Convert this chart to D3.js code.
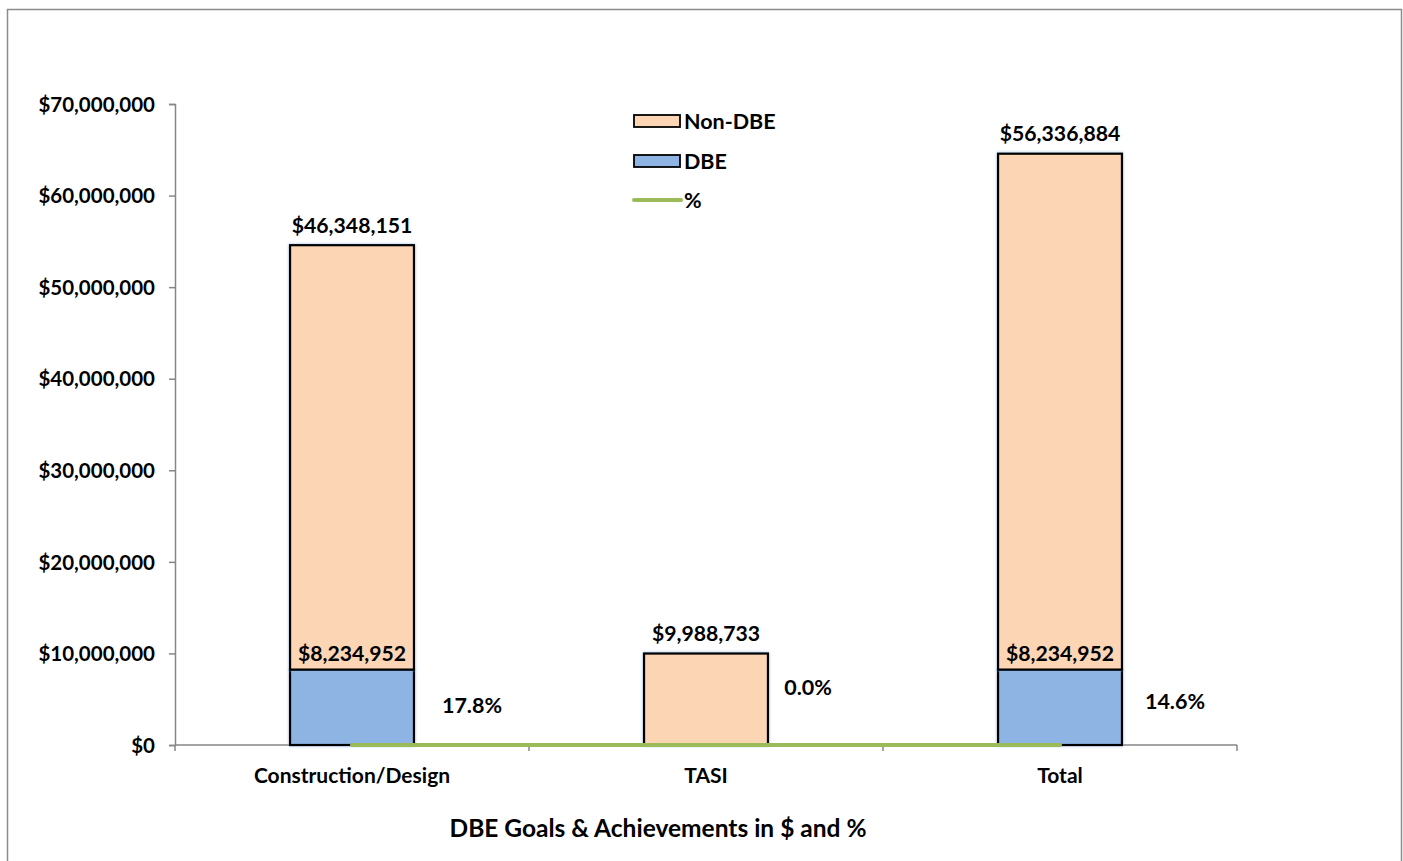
<!DOCTYPE html>
<html>
<head>
<meta charset="utf-8">
<script src="https://cdn.jsdelivr.net/npm/d3@7"></script>
<style>
  html, body { margin: 0; padding: 0; background: #fff; }
  svg { display: block; font-family: Lato, "Open Sans", sans-serif; font-weight: bold; }
</style>
</head>
<body>
<svg id="chart" width="1403" height="861"></svg>
<script>
// Program categories and amounts
const categories = ["Construction/Design", "TASI", "Total"];
const dbeValues = [8234952, 0, 8234952];
const nonDbeValues = [46348151, 9988733, 56336884];
const percentValues = [17.8, 0.0, 14.6];
const yTicks = [0, 10000000, 20000000, 30000000, 40000000, 50000000, 60000000, 70000000];
const legendLabels = ["Non-DBE", "DBE", "%"];
const chartTitle = "DBE Goals & Achievements in $ and %";

const colors = { nonDbe: "#FCD5B5", dbe: "#8EB4E3", pct: "#9BBB59", axis: "#868686" };
const fs = { tick: 20.5, cat: 21, value: 21.2, pct: 21.5, legend: 21.5, title: 24.5 };

const svg = d3.select("#chart");
const W = 1403, H = 861;
const plot = { left: 175, right: 1237, top: 104, bottom: 745 };

// Outer chart frame
svg.append("rect")
  .attr("x", 7.5).attr("y", 9.5).attr("width", W - 9).attr("height", H + 10)
  .attr("fill", "#fff").attr("stroke", "#8c8c8c").attr("stroke-width", 1.5);

const x = d3.scaleBand().domain(categories).range([plot.left, plot.right]).padding(0);
const y = d3.scaleLinear().domain([0, 70000000]).range([plot.bottom, plot.top]);
const barW = x.bandwidth() * 0.35;
const money = v => "$" + d3.format(",")(v);

// Y axis
const yAxis = svg.append("g")
  .attr("transform", `translate(${plot.left},0)`)
  .call(d3.axisLeft(y).tickValues(yTicks).tickSize(6).tickPadding(14).tickFormat(money));
yAxis.select(".domain").attr("stroke", colors.axis).attr("stroke-width", 1.5);
yAxis.selectAll(".tick line").attr("stroke", colors.axis).attr("stroke-width", 1.5);
yAxis.selectAll(".tick text").attr("font-size", fs.tick).attr("font-family", "Lato, sans-serif")
  .attr("font-weight", "bold").attr("fill", "#000").attr("dy", "0.35em");

// X axis with boundary ticks between categories
const xg = svg.append("g");
xg.append("line")
  .attr("x1", plot.left).attr("x2", plot.right).attr("y1", plot.bottom).attr("y2", plot.bottom)
  .attr("stroke", colors.axis).attr("stroke-width", 1.5);
const bounds = categories.map(c => x(c)).concat([plot.right]);
xg.selectAll("line.tk").data(bounds).enter().append("line")
  .attr("class", "tk")
  .attr("x1", d => d).attr("x2", d => d)
  .attr("y1", plot.bottom).attr("y2", plot.bottom + 6)
  .attr("stroke", colors.axis).attr("stroke-width", 1.5);
xg.selectAll("text").data(categories).enter().append("text")
  .attr("x", d => x(d) + x.bandwidth() / 2)
  .attr("y", plot.bottom + 31)
  .attr("dy", "0.35em")
  .attr("text-anchor", "middle").attr("font-size", fs.cat).attr("fill", "#000")
  .text(d => d);

// Stacked bars
const rows = categories.map((c, i) => ({ cat: c, dbe: dbeValues[i], non: nonDbeValues[i] }));
const stack = d3.stack().keys(["dbe", "non"])(rows);
const fills = { dbe: colors.dbe, non: colors.nonDbe };

stack.forEach(layer => {
  svg.append("g").selectAll("rect").data(layer.filter(d => d[1] > d[0])).enter().append("rect")
    .attr("x", d => x(d.data.cat) + (x.bandwidth() - barW) / 2)
    .attr("y", d => y(d[1]))
    .attr("width", barW)
    .attr("height", d => y(d[0]) - y(d[1]))
    .attr("fill", fills[layer.key])
    .attr("stroke", "#000").attr("stroke-width", 2.2)
    .style("filter", "drop-shadow(0 0 1.5px rgba(141,179,226,0.9))");
});

// Value labels: Non-DBE above bar, DBE just above its segment
const cx = c => x(c) + x.bandwidth() / 2;
svg.append("g").selectAll("text").data(rows).enter().append("text")
  .attr("x", d => cx(d.cat))
  .attr("y", d => y(d.dbe + d.non) - 20)
  .attr("dy", "0.35em")
  .attr("text-anchor", "middle").attr("font-size", fs.value).attr("fill", "#000")
  .text(d => money(d.non));
svg.append("g").selectAll("text").data(rows.filter(d => d.dbe > 0)).enter().append("text")
  .attr("x", d => cx(d.cat))
  .attr("y", d => y(d.dbe) - 16)
  .attr("dy", "0.35em")
  .attr("text-anchor", "middle").attr("font-size", fs.value).attr("fill", "#000")
  .text(d => money(d.dbe));

// Percent series, plotted against the dollar scale
const line = d3.line().x((d, i) => cx(categories[i])).y(d => y(d));
svg.append("path")
  .datum(percentValues)
  .attr("d", line)
  .attr("fill", "none").attr("stroke", colors.pct).attr("stroke-width", 4)
  .attr("stroke-linecap", "round");

const pctOffsets = [{ dx: 120, dy: -40 }, { dx: 102, dy: -58 }, { dx: 115, dy: -44 }];
svg.append("g").selectAll("text").data(percentValues).enter().append("text")
  .attr("x", (d, i) => cx(categories[i]) + pctOffsets[i].dx)
  .attr("y", (d, i) => y(d) + pctOffsets[i].dy)
  .attr("text-anchor", "middle").attr("dy", "0.35em")
  .attr("font-size", fs.pct).attr("fill", "#000")
  .text(d => d.toFixed(1) + "%");

// Legend
const lg = svg.append("g").attr("transform", "translate(634,0)");
const legendY = [121, 161, 200];
legendLabels.forEach((lab, i) => {
  if (i < 2) {
    lg.append("rect")
      .attr("x", 0).attr("y", legendY[i] - 6).attr("width", 46).attr("height", 12)
      .attr("fill", i === 0 ? colors.nonDbe : colors.dbe)
      .attr("stroke", "#000").attr("stroke-width", 1.8);
  } else {
    lg.append("line")
      .attr("x1", 0).attr("x2", 47).attr("y1", legendY[i]).attr("y2", legendY[i])
      .attr("stroke", colors.pct).attr("stroke-width", 4).attr("stroke-linecap", "round");
  }
  lg.append("text")
    .attr("x", 50).attr("y", legendY[i]).attr("dy", "0.35em")
    .attr("font-size", fs.legend).attr("fill", "#000")
    .text(lab);
});

// Title
svg.append("text")
  .attr("x", 658).attr("y", 828).attr("dy", "0.35em")
  .attr("text-anchor", "middle").attr("font-size", fs.title).attr("fill", "#000")
  .text(chartTitle);
</script>
</body>
</html>
